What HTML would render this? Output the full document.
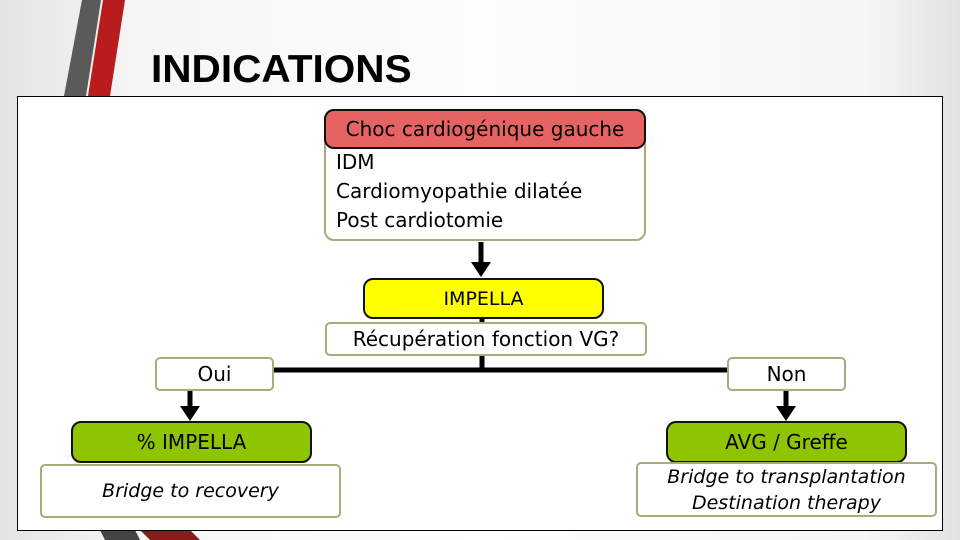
<!DOCTYPE html>
<html><head><style>
body{margin:0;width:960px;height:540px;overflow:hidden;background:linear-gradient(90deg,#e4e4e4 0%,#f6f6f6 15%,#fdfdfd 50%,#f6f6f6 90%,#e2e2e2 100%);position:relative;font-family:"DejaVu Sans","Liberation Sans",sans-serif}
.a{position:absolute;box-sizing:border-box}
.t{font-family:"Liberation Sans",sans-serif;font-weight:bold;font-size:39px;left:151px;top:48px;position:absolute;transform:scaleX(1.04);transform-origin:left}
.b{border:2px solid #a8ab7c;background:#fff;border-radius:5px}
.h{border:2px solid #111;border-radius:10px;text-align:center}
.c{display:flex;align-items:center;justify-content:center;font-size:19px;color:#000;text-align:center}
</style></head><body>
<svg class="a" style="left:0;top:0" width="960" height="540">
<polygon points="82,0 101,0 86,96 64,96" fill="#5a5a5a"/>
<polygon points="103,0 125,0 110,96 88,96" fill="#b91c1c"/>
<polygon points="100,530 135,530 140,540 105,540" fill="#444"/>
<polygon points="140,530 190,530 200,540 150,540" fill="#8b1a1a"/>
</svg>
<div class="t">INDICATIONS</div>
<div class="a" style="left:17px;top:96px;width:926px;height:435px;border:1px solid #000;background:#fff"></div>
<div class="a b" style="left:324px;top:109px;width:322px;height:132px;border-radius:10px;padding:37px 0 0 10px;font-size:20px;line-height:29px">IDM<br>Cardiomyopathie dilatée<br>Post cardiotomie</div>
<div class="a h c" style="left:324px;top:109px;width:322px;height:40px;background:#e56363;font-size:20px">Choc cardiogénique gauche</div>
<svg class="a" style="left:0;top:0" width="960" height="540">
<g stroke="#000" stroke-width="5" fill="none">
<line x1="481" y1="242" x2="481" y2="266"/>
<line x1="482" y1="318" x2="482" y2="370"/>
<line x1="273" y1="370" x2="727" y2="370"/>
<line x1="190" y1="390" x2="190" y2="410"/>
<line x1="786" y1="390" x2="786" y2="410"/>
</g>
<polygon points="471,262 491,262 481,277" fill="#000"/>
<polygon points="180,406 200,406 190,421" fill="#000"/>
<polygon points="776,406 796,406 786,421" fill="#000"/>
</svg>
<div class="a h c" style="left:363px;top:278px;width:241px;height:41px;background:#ffff00">IMPELLA</div>
<div class="a b c" style="left:325px;top:322px;width:322px;height:34px;font-size:20px">Récupération fonction VG?</div>
<div class="a b c" style="left:155px;top:357px;width:119px;height:34px;font-size:20px">Oui</div>
<div class="a b c" style="left:727px;top:357px;width:119px;height:34px;font-size:20px">Non</div>
<div class="a h c" style="left:71px;top:421px;width:241px;height:42px;background:#8fc400;font-size:20px">% IMPELLA</div>
<div class="a h c" style="left:666px;top:421px;width:241px;height:42px;background:#8fc400;font-size:20px">AVG / Greffe</div>
<div class="a b c" style="left:40px;top:464px;width:301px;height:54px;font-style:italic">Bridge to recovery</div>
<div class="a b c" style="left:636px;top:462px;width:301px;height:55px;font-style:italic;line-height:26px">Bridge to transplantation<br>Destination therapy</div>
</body></html>
